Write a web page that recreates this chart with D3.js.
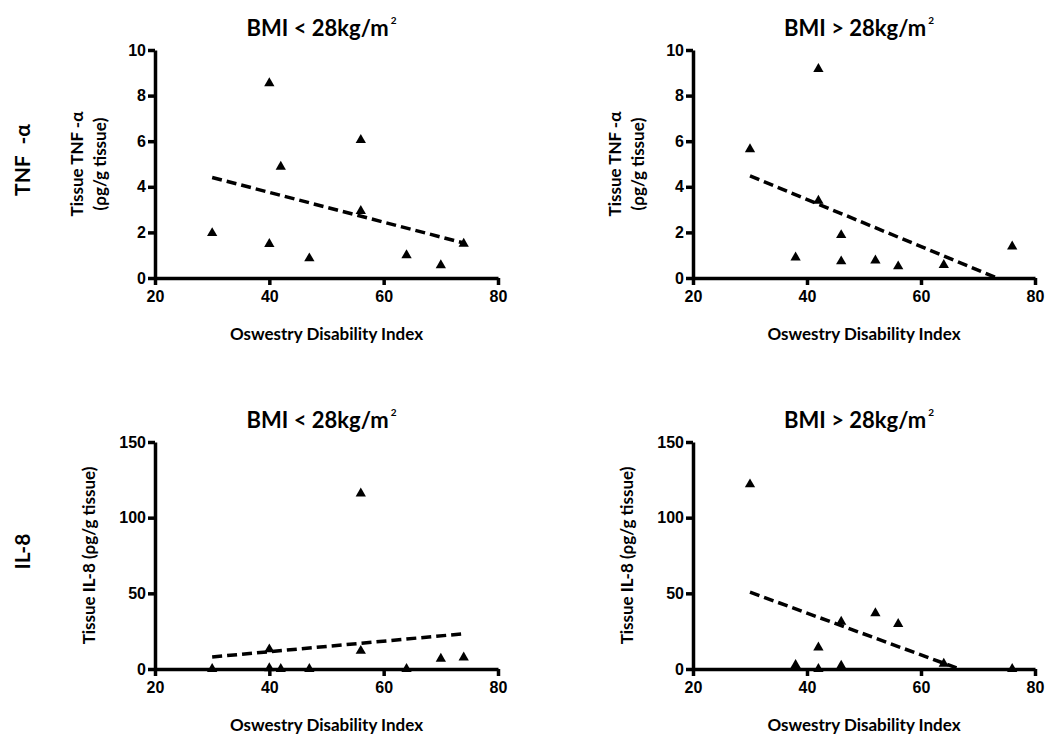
<!DOCTYPE html>
<html lang="en">
<head>
<meta charset="UTF-8">
<title>ODI vs tissue cytokines</title>
<script src="https://cdnjs.cloudflare.com/ajax/libs/d3/7.8.5/d3.min.js"></script>
<style>
  html, body { margin: 0; padding: 0; background: #fff; }
  svg { display: block; font-family: Lato, "Open Sans", sans-serif; }
  .axis text { font-size: 16px; font-weight: bold; fill: #000; }
</style>
</head>
<body>
<svg id="chart" width="1045" height="735"></svg>
<script>
// data
const odiTicks = [20, 40, 60, 80];
const tnfTicks = [0, 2, 4, 6, 8, 10];
const il8Ticks = [0, 50, 100, 150];

const odiLowTnf  = [30, 40, 42, 40, 47, 56, 56, 64, 70, 74];
const tnfLow     = [1.97, 8.54, 4.88, 1.49, 0.86, 6.05, 2.94, 1.0, 0.56, 1.5];
const odiHighTnf = [30, 42, 42, 38, 46, 46, 52, 56, 64, 76];
const tnfHigh    = [5.65, 9.17, 3.39, 0.9, 1.88, 0.73, 0.77, 0.51, 0.57, 1.38];

const odiLowIl8  = [30, 40, 40, 42, 47, 56, 56, 64, 70, 74];
const il8Low     = [0, 0.5, 13, 0, 0, 116, 12, 0, 6.8, 7.6];
const odiHighIl8 = [30, 38, 42, 42, 46, 46, 52, 56, 64, 76];
const il8High    = [122, 2.6, 14.2, 0, 31.2, 2.2, 36.9, 29.8, 3.5, 0];

const groupTitles = ['BMI < 28kg/m', 'BMI > 28kg/m'];

const svg = d3.select('#chart');

const cols = [[155, 498], [693, 1035]];
const rows = [
  { top: 50, bottom: 278, max: 10, ticks: tnfTicks, label: ['Tissue TNF -\u03b1', '(\u03c1g/g tissue)'], row: ['TNF', '-\u03b1'] },
  { top: 442, bottom: 669, max: 150, ticks: il8Ticks, label: ['Tissue IL-8 (\u03c1g/g tissue)'], row: ['IL-8'] }
];

const panels = [
  { r: 0, c: 0, xs: odiLowTnf, ys: tnfLow },
  { r: 0, c: 1, xs: odiHighTnf, ys: tnfHigh },
  { r: 1, c: 0, xs: odiLowIl8, ys: il8Low },
  { r: 1, c: 1, xs: odiHighIl8, ys: il8High }
];

function fit(xs, ys) {
  const mx = d3.mean(xs), my = d3.mean(ys);
  let sxy = 0, sxx = 0;
  xs.forEach((x, i) => { sxy += (x - mx) * (ys[i] - my); sxx += (x - mx) * (x - mx); });
  const b = sxy / sxx, a = my - b * mx;
  let x0 = d3.min(xs), x1 = d3.max(xs);
  // clip to the plotted range (y >= 0)
  if (a + b * x1 < 0) x1 = -a / b;
  if (a + b * x0 < 0) x0 = -a / b;
  return [[x0, a + b * x0], [x1, a + b * x1]];
}

function styleAxis(sel) {
  sel.selectAll('path, line').attr('stroke', '#000').attr('stroke-width', 3.5);
}

const tri = d3.symbol().type(d3.symbolTriangle).size(46);

panels.forEach(p => {
  const R = rows[p.r], C = cols[p.c];
  const x = d3.scaleLinear().domain([20, 80]).range(C);
  const y = d3.scaleLinear().domain([0, R.max]).range([R.bottom, R.top]);
  const g = svg.append('g');

  g.append('g').attr('class', 'axis')
    .attr('transform', `translate(0,${R.bottom})`)
    .call(d3.axisBottom(x).tickValues(odiTicks).tickSize(7).tickSizeOuter(0).tickPadding(6))
    .call(styleAxis);
  g.append('g').attr('class', 'axis')
    .attr('transform', `translate(${C[0]},0)`)
    .call(d3.axisLeft(y).tickValues(R.ticks).tickSize(7).tickSizeOuter(0).tickPadding(2))
    .call(styleAxis);

  const line = fit(p.xs, p.ys);
  g.append('path')
    .attr('d', d3.line().x(d => x(d[0])).y(d => y(d[1]))(line))
    .attr('fill', 'none').attr('stroke', '#000')
    .attr('stroke-width', 3.5).attr('stroke-dasharray', '10,5');

  g.selectAll('path.pt').data(p.xs.map((v, i) => [v, p.ys[i]]))
    .enter().append('path').attr('class', 'pt')
    .attr('d', tri)
    .attr('transform', d => `translate(${x(d[0])},${y(d[1])})`)
    .attr('fill', '#000');

  const cx = (C[0] + C[1]) / 2;
  const t = g.append('text')
    .attr('x', cx - 5).attr('y', R.top - 14)
    .attr('text-anchor', 'middle')
    .attr('font-size', 22).attr('font-weight', 'bold')
    .text(groupTitles[p.c]);
  t.append('tspan').attr('dy', -12).attr('dx', 2).attr('font-size', 10).text('2');

  g.append('text')
    .attr('x', cx).attr('y', R.bottom + 62)
    .attr('text-anchor', 'middle')
    .attr('font-size', 17).attr('font-weight', 'bold')
    .text('Oswestry Disability Index');

  const ymid = (R.top + R.bottom) / 2;
  const yl = g.append('text')
    .attr('transform', `translate(${C[0] - 60},${ymid}) rotate(-90)`)
    .attr('text-anchor', 'middle')
    .attr('font-size', 17).attr('font-weight', 'bold');
  if (R.label.length === 2) {
    yl.append('tspan').attr('x', 0).attr('y', -12).text(R.label[0]);
    yl.append('tspan').attr('x', 0).attr('y', 11).text(R.label[1]);
  } else {
    yl.append('tspan').attr('x', 0).attr('y', 0).text(R.label[0]);
  }
});

rows.forEach(R => {
  const ymid = (R.top + R.bottom) / 2;
  const rt = svg.append('text')
    .attr('transform', `translate(30,${ymid - 4}) rotate(-90)`)
    .attr('text-anchor', 'middle')
    .attr('font-size', 21).attr('font-weight', 'bold');
  R.row.forEach((s, i) => rt.append('tspan').attr('dx', i ? 11 : 0).text(s));
});
</script>
</body>
</html>
